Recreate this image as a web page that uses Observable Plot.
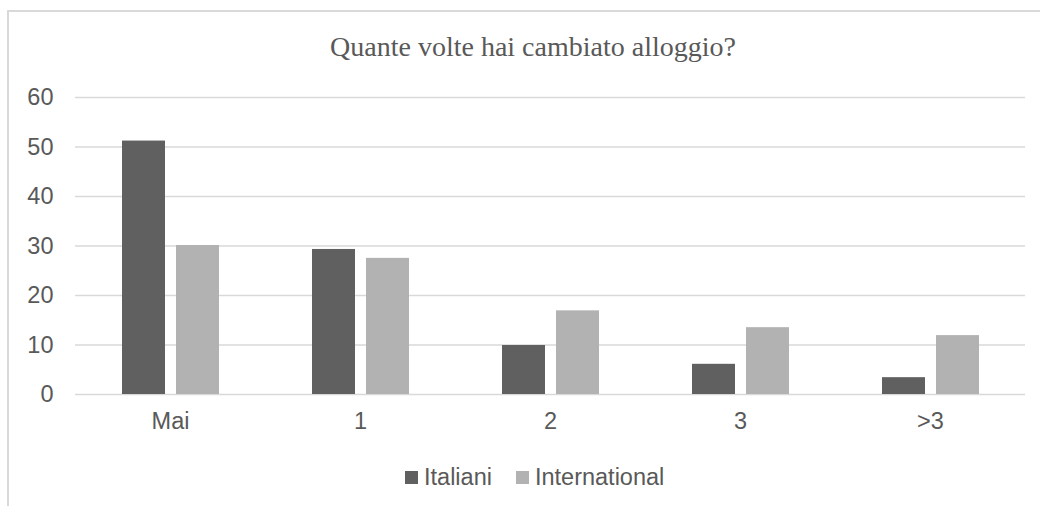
<!DOCTYPE html>
<html>
<head>
<meta charset="utf-8">
<script src="https://cdn.jsdelivr.net/npm/d3@7"></script>
<script src="https://cdn.jsdelivr.net/npm/@observablehq/plot@0.6"></script>
<style>
  html, body { margin: 0; padding: 0; background: #fff; }
  #wrap { position: relative; width: 1040px; height: 506px; overflow: hidden; font-family: "Liberation Sans", Arial, sans-serif; color: #595959; }
  #frame { position: absolute; left: 7px; top: 10px; width: 1100px; height: 600px; border-top: 2px solid #d9d9d9; border-left: 2px solid #d9d9d9; }
  #title { position: absolute; left: 13px; width: 1040px; top: 33px; text-align: center; font-family: "Liberation Serif", "Times New Roman", serif; font-size: 28px; color: #595959; line-height: 1; }
  #chart { position: absolute; left: 0; top: 0; }
  #chart svg text { font-size: 23.5px; }
  #legend { position: absolute; left: 405px; top: 465px; font-size: 23.5px; line-height: 24px; display: flex; align-items: center; }
  .sw { display: inline-block; width: 13px; height: 13px; margin-right: 6px; }
  .item { display: flex; align-items: center; margin-right: 24px; }
</style>
</head>
<body>
<div id="wrap">
  <div id="frame"></div>
  <div id="title">Quante volte hai cambiato alloggio?</div>
  <div id="chart"></div>
  <div id="legend"></div>
</div>
<script>
const categories = ["Mai", "1", "2", "3", ">3"];
const seriesNames = ["Italiani", "International"];
const italiani = [51.2, 29.3, 9.9, 6.1, 3.4];
const international = [30.1, 27.5, 16.9, 13.5, 11.9];
const yTicks = [0, 10, 20, 30, 40, 50, 60];
const colors = ["#606060", "#b2b2b2"];

const data = [];
categories.forEach((c, i) => {
  data.push({cat: c, series: seriesNames[0], value: italiani[i]});
  data.push({cat: c, series: seriesNames[1], value: international[i]});
});

const chart = Plot.plot({
  width: 1040,
  height: 440,
  marginTop: 97,
  marginBottom: 46,
  marginLeft: 74,
  marginRight: 15,
  style: {fontFamily: "'Liberation Sans', Arial, sans-serif", fontSize: "23.5px", color: "#595959", background: "transparent", overflow: "visible"},
  fx: {domain: categories, padding: 0, axis: "bottom", tickSize: 0, tickPadding: 18, label: null},
  x: {domain: seriesNames, paddingInner: 0.21, paddingOuter: 0.855, axis: null},
  y: {domain: [0, 60], ticks: yTicks, tickSize: 0, tickPadding: 22, label: null, tickFormat: d => String(d)},
  color: {domain: seriesNames, range: colors},
  marks: [
    Plot.ruleY(yTicks, {stroke: "#d9d9d9", strokeWidth: 1.5}),
    Plot.barY(data, {fx: "cat", x: "series", y: "value", fill: "series"})
  ]
});
document.getElementById("chart").appendChild(chart);

const legend = document.getElementById("legend");
seriesNames.forEach((s, i) => {
  const item = document.createElement("div");
  item.className = "item";
  const sw = document.createElement("span");
  sw.className = "sw";
  sw.style.background = colors[i];
  item.appendChild(sw);
  item.appendChild(document.createTextNode(s));
  legend.appendChild(item);
});
</script>
</body>
</html>
